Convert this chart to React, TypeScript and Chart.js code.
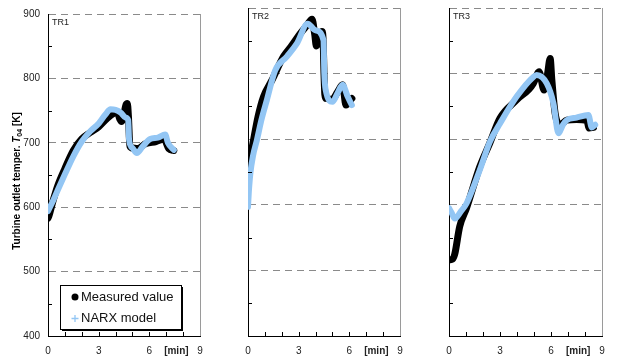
import { useEffect, useRef } from 'react';
import { Chart, registerables } from 'chart.js';

Chart.register(...registerables);

const FONT = "'Liberation Sans', Arial, Helvetica, sans-serif";
const BLUE = '#93c6f4';

// ---- data (time in min, temperature in K) ----
const tr1MeasTime = [0, 0.05, 0.3, 0.6, 1.0, 1.5, 2.0, 2.5, 3.0, 3.5, 3.9, 4.1, 4.25, 4.35, 4.5, 4.62, 4.7, 4.76, 4.85, 5.0, 5.3, 5.8, 6.4, 6.9, 7.0, 7.15, 7.45];
const tr1MeasK = [583, 586, 610, 635, 660, 688, 706, 716, 725, 738, 746, 748, 737, 733, 745, 759, 761, 742, 695, 692, 691, 699, 702, 706, 700, 691, 688];
const tr1NarxTime = [0, 0.3, 0.6, 1.0, 1.5, 2.0, 2.5, 3.0, 3.4, 3.7, 4.0, 4.3, 4.6, 4.75, 4.8, 5.0, 5.26, 5.6, 6.05, 6.5, 6.94, 7.1, 7.45];
const tr1NarxK = [594, 610, 628, 651, 679, 702, 718, 730, 744, 752, 751, 747, 739, 735, 705, 692, 684, 694, 706, 708, 713, 700, 689];

const tr2MeasTime = [0, 0.1, 0.33, 0.6, 0.92, 1.42, 2.1, 2.6, 3.09, 3.5, 3.79, 3.95, 4.05, 4.2, 4.38, 4.45, 4.5, 4.55, 4.62, 5.0, 5.3, 5.6, 5.8, 6.15];
const tr2MeasK = [645, 665, 699, 735, 765, 790, 826, 843, 861, 874, 883, 860, 842, 850, 864, 850, 800, 768, 762, 761, 772, 783, 752, 762];
const tr2NarxTime = [0, 0.05, 0.14, 0.3, 0.53, 0.8, 1.12, 1.61, 2.3, 2.9, 3.53, 4.0, 4.47, 4.52, 4.6, 5.0, 5.3, 5.6, 5.9, 6.15];
const tr2NarxK = [597, 620, 648, 675, 699, 730, 760, 805, 826, 846, 876, 866, 851, 800, 775, 757, 770, 783, 765, 752];

const tr3MeasTime = [0.04, 0.2, 0.34, 0.63, 1.03, 1.81, 2.4, 3.0, 3.98, 4.96, 5.2, 5.3, 5.59, 5.8, 5.95, 6.05, 6.24, 6.54, 6.93, 7.5, 8.11, 8.25, 8.5];
const tr3MeasK = [516, 517, 525, 567, 595, 658, 694, 732, 760, 785, 800, 803, 775, 800, 823, 790, 740, 722, 729, 730, 728, 717, 718];
const tr3NarxTime = [0, 0.15, 0.34, 0.7, 1.03, 1.81, 2.4, 3.0, 3.98, 4.96, 5.16, 5.75, 6.14, 6.44, 6.7, 6.93, 7.5, 8.2, 8.4, 8.6];
const tr3NarxK = [595, 588, 579, 590, 602, 653, 696, 724, 765, 795, 798, 785, 755, 709, 722, 729, 733, 737, 718, 722];

const panelNames = ['TR1', 'TR2', 'TR3'];
const seriesNames = ['Measured value', 'NARX model'];
const xLabelTicks = [0, 3, 6, 9];
const xUnitPos = 7.6;
const xUnitLabel = '[min]';
const xMinorTicks = [1, 2, 3, 4, 5, 6, 7, 8];
const yTicks = [400, 500, 600, 700, 800, 900];
const yMinorTicks = [450, 550, 650, 750, 850];
const yTitleParts = ['Turbine outlet temper. ', 'T', '04', ' [K]'];

const measTimes = [tr1MeasTime, tr2MeasTime, tr3MeasTime];
const measVals = [tr1MeasK, tr2MeasK, tr3MeasK];
const narxTimes = [tr1NarxTime, tr2NarxTime, tr3NarxTime];
const narxVals = [tr1NarxK, tr2NarxK, tr3NarxK];

const panels = [
  { left: 0, width: 212, yWidth: 48 },
  { left: 236, width: 176, yWidth: 12 },
  { left: 437, width: 177, yWidth: 12 },
];

function pts(t: number[], k: number[]) {
  return t.map((x, i) => ({ x, y: k[i] }));
}

function decorPlugin(idx: number) {
  return {
    id: 'decor' + idx,
    afterDraw(chart: any) {
      const { ctx, chartArea: a } = chart;
      const x = chart.scales.x;
      const y = chart.scales.y;
      ctx.save();
      // right frame
      ctx.strokeStyle = '#9a9a9a';
      ctx.lineWidth = 1;
      ctx.beginPath();
      const rx = Math.round(a.right) + 0.5;
      ctx.moveTo(rx, a.top);
      ctx.lineTo(rx, a.bottom);
      ctx.stroke();
      // inward ticks
      ctx.strokeStyle = '#000';
      ctx.beginPath();
      xMinorTicks.forEach((v) => {
        const px = Math.round(x.getPixelForValue(v)) + 0.5;
        ctx.moveTo(px, a.bottom);
        ctx.lineTo(px, a.bottom - 4);
      });
      yMinorTicks.forEach((v) => {
        const py = Math.round(y.getPixelForValue(v)) + 0.5;
        ctx.moveTo(a.left, py);
        ctx.lineTo(a.left + 4, py);
      });
      ctx.stroke();
      // panel name
      ctx.fillStyle = '#222';
      ctx.font = `9px ${FONT}`;
      ctx.textBaseline = 'middle';
      ctx.textAlign = 'left';
      ctx.fillText(panelNames[idx], a.left + 4, a.top + 9);

      if (idx === 0) {
        // y-axis title
        ctx.save();
        ctx.translate(17, 181);
        ctx.rotate(-Math.PI / 2);
        const fonts = [`bold 10px ${FONT}`, `italic bold 10px ${FONT}`, `bold 7px ${FONT}`, `bold 10px ${FONT}`];
        const dys = [0, 0, 3, 0];
        let total = 0;
        const widths = yTitleParts.map((s, i) => {
          ctx.font = fonts[i];
          const w = ctx.measureText(s).width;
          total += w;
          return w;
        });
        let cx = -total / 2;
        ctx.fillStyle = '#000';
        ctx.textBaseline = 'middle';
        yTitleParts.forEach((s, i) => {
          ctx.font = fonts[i];
          ctx.fillText(s, cx, dys[i]);
          cx += widths[i];
        });
        ctx.restore();

        // legend
        const bl = Math.round(a.left + 12) + 0.5;
        const bt = Math.round(a.bottom - 51) + 0.5;
        const bw = 121;
        const bh = 44;
        ctx.fillStyle = '#000';
        ctx.fillRect(bl + 1.5, bt + 1.5, bw, bh);
        ctx.fillStyle = '#fff';
        ctx.fillRect(bl, bt, bw, bh);
        ctx.strokeStyle = '#000';
        ctx.lineWidth = 1;
        ctx.strokeRect(bl, bt, bw, bh);
        const r1 = a.bottom - 39;
        const r2 = a.bottom - 17.5;
        const sx = a.left + 27;
        ctx.fillStyle = '#000';
        ctx.beginPath();
        ctx.arc(sx, r1, 3.5, 0, Math.PI * 2);
        ctx.fill();
        ctx.strokeStyle = BLUE;
        ctx.lineWidth = 1.3;
        ctx.beginPath();
        ctx.moveTo(sx - 3.5, r2);
        ctx.lineTo(sx + 3.5, r2);
        ctx.moveTo(sx, r2 - 3.5);
        ctx.lineTo(sx, r2 + 3.5);
        ctx.stroke();
        ctx.fillStyle = '#111';
        ctx.font = `13px ${FONT}`;
        ctx.textBaseline = 'middle';
        ctx.fillText(seriesNames[0], a.left + 33, r1);
        ctx.fillText(seriesNames[1], a.left + 33, r2);
      }
      ctx.restore();
    },
  };
}

function buildConfig(idx: number): any {
  const first = idx === 0;
  const p = panels[idx];
  return {
    type: 'scatter',
    data: {
      datasets: [
        {
          label: seriesNames[0],
          data: pts(measTimes[idx], measVals[idx]),
          showLine: true,
          borderColor: '#000',
          backgroundColor: '#000',
          borderWidth: 7,
          pointRadius: 0,
          cubicInterpolationMode: 'monotone',
          borderCapStyle: 'round',
          borderJoinStyle: 'round',
          order: 2,
        },
        {
          label: seriesNames[1],
          data: pts(narxTimes[idx], narxVals[idx]),
          showLine: true,
          borderColor: BLUE,
          backgroundColor: BLUE,
          borderWidth: 6,
          pointRadius: 0,
          cubicInterpolationMode: 'monotone',
          borderCapStyle: 'round',
          borderJoinStyle: 'round',
          order: 1,
        },
      ],
    },
    options: {
      responsive: false,
      animation: false,
      layout: { padding: { left: 0, right: 12, top: 8, bottom: 0 } },
      plugins: { legend: { display: false }, tooltip: { enabled: false } },
      scales: {
        x: {
          type: 'linear',
          min: 0,
          max: 9,
          afterBuildTicks: (s: any) => {
            s.ticks = [...xLabelTicks, xUnitPos].sort((m, n) => m - n).map((v) => ({ value: v }));
          },
          afterFit: (s: any) => {
            s.height = 20;
          },
          grid: { display: false, drawTicks: false },
          border: { display: true, color: '#000', width: 1 },
          ticks: {
            autoSkip: false,
            maxRotation: 0,
            padding: 9,
            color: '#222',
            font: (ctx: any) => ({
              family: FONT,
              size: 10,
              weight: ctx.tick && ctx.tick.value === xUnitPos ? 'bold' : 'normal',
            }),
            callback: (v: any) => (v === xUnitPos ? xUnitLabel : String(v)),
          },
        },
        y: {
          type: 'linear',
          min: 400,
          max: 900,
          afterBuildTicks: (s: any) => {
            s.ticks = yTicks.map((v) => ({ value: v }));
          },
          afterFit: (s: any) => {
            s.width = p.yWidth;
          },
          grid: { color: '#8a8a8a', lineWidth: 1, drawTicks: false },
          border: { display: true, color: '#000', width: 1, dash: [7, 5] },
          ticks: {
            display: first,
            padding: 8,
            color: '#222',
            font: { family: FONT, size: 10 },
          },
        },
      },
    },
    plugins: [decorPlugin(idx)],
  };
}

export default function App() {
  const r0 = useRef<HTMLCanvasElement>(null);
  const r1 = useRef<HTMLCanvasElement>(null);
  const r2 = useRef<HTMLCanvasElement>(null);
  const refs = [r0, r1, r2];

  useEffect(() => {
    const charts = refs.map((r, i) => new Chart(r.current as HTMLCanvasElement, buildConfig(i)));
    return () => charts.forEach((c) => c.destroy());
  }, []);

  return (
    <div style={{ position: 'absolute', left: 0, top: 0, width: 620, height: 356, background: '#fff' }}>
      {panels.map((p, i) => (
        <canvas
          key={i}
          ref={refs[i]}
          width={p.width}
          height={356}
          style={{ position: 'absolute', left: p.left, top: 0, width: p.width, height: 356 }}
        />
      ))}
    </div>
  );
}
